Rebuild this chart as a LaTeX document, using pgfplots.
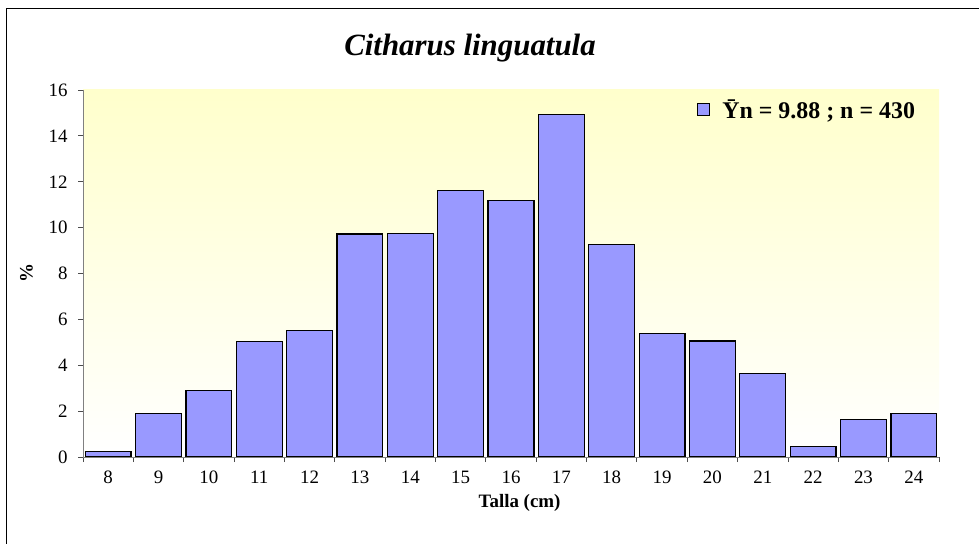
\documentclass[border=0pt]{standalone}
\usepackage{fontspec}
\setmainfont{Liberation Serif}
\usepackage{pgfplots}
\pgfplotsset{compat=1.18}
\definecolor{barblue}{RGB}{153,153,255}
\definecolor{bgyellow}{RGB}{255,255,204}
\definecolor{axgray}{RGB}{128,128,128}

\begin{document}
\begin{tikzpicture}
\useasboundingbox (0,0) rectangle (979bp,544bp);
% outer frame (cut off at right and bottom)
\draw[black, line width=0.9bp] (6bp,-20bp) -- (6bp,536bp) -- (1000bp,536bp);
\node[font=\fontsize{31}{34}\selectfont\bfseries\itshape] at (470bp,496bp) {Citharus linguatula};

\begin{axis}[
    at={(83bp,87bp)}, anchor=south west,
    scale only axis, width=856bp, height=367bp,
    xmin=-0.5, xmax=16.5,
    ymin=0, ymax=16,
    ybar, bar width=0.91,
    axis x line*=bottom, axis y line*=left,
    axis line style={axgray, line width=0.8bp},
    axis background/.style={top color=bgyellow, bottom color=white},
    xtick={0,...,16},
    xticklabels={8,9,10,11,12,13,14,15,16,17,18,19,20,21,22,23,24},
    minor xtick={-0.5,0.5,...,16.5},
    major x tick style={draw=none},
    ytick={0,2,...,16},
    tick align=outside,
    major tick length=5bp, minor tick length=5bp,
    tick style={black!70, line width=0.8bp},
    tick label style={font=\fontsize{19}{21}\selectfont},
    xticklabel style={yshift=-5bp},
    yticklabel style={xshift=-7bp},
    /pgf/number format/assume math mode=true,
    xlabel={\textbf{Talla (cm)}},
    ylabel={\textbf{\%}},
    xlabel style={font=\fontsize{19}{21}\selectfont,
                  at={(axis description cs:0.51,-0.125)}, anchor=center},
    ylabel style={font=\fontsize{19}{21}\selectfont,
                  at={(axis description cs:-0.066,0.5)}, anchor=center},
    legend style={at={(0.978,0.985)}, anchor=north east, draw=none, fill=none,
                  font=\fontsize{24}{27}\selectfont\bfseries},
    legend image code/.code={\draw[#1, line width=1bp] (0bp,-6bp) rectangle (12bp,6bp);
                             \path (22bp,0bp);},
]
\addplot[fill=barblue, draw=black, line width=1.2bp] coordinates {
    (0,0.23) (1,1.9) (2,2.9) (3,5.03) (4,5.52) (5,9.72) (6,9.76)
    (7,11.62) (8,11.17) (9,14.92) (10,9.28) (11,5.40) (12,5.06)
    (13,3.65) (14,0.47) (15,1.62) (16,1.9)
};
\addlegendentry{\={Y}n = 9.88 ; n = 430}
\end{axis}
\end{tikzpicture}
\end{document}
